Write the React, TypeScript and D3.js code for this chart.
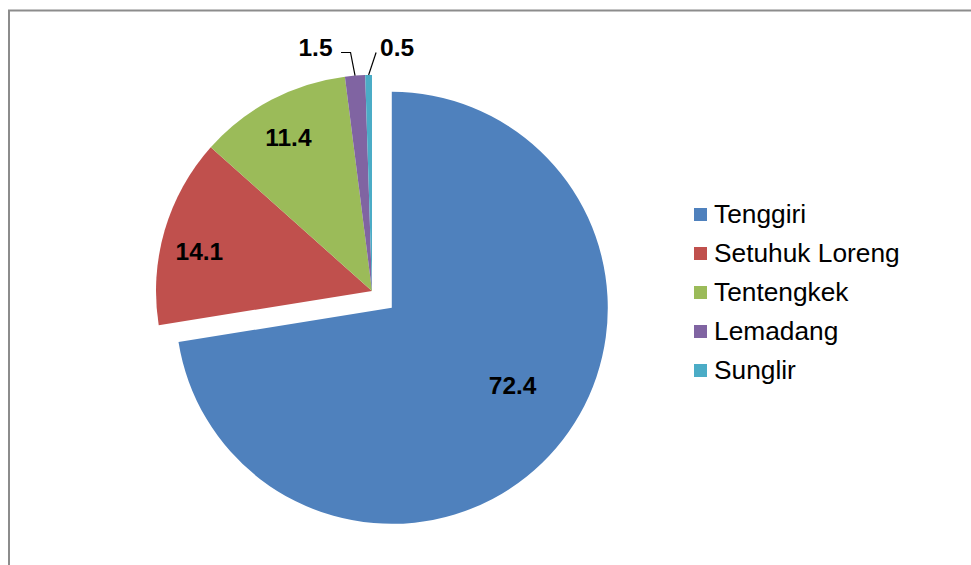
import React from "react";
import * as d3 from "d3";

// Catch composition by species (%)
const species = ["Tenggiri", "Setuhuk Loreng", "Tentengkek", "Lemadang", "Sunglir"];
const shares = [72.4, 14.1, 11.4, 1.5, 0.5];
const sliceColors = ["#4F81BD", "#C0504D", "#9BBB59", "#8064A2", "#4BACC6"];

const W = 971;
const H = 565;
const cx = 372;
const cy = 291;
const R = 216;
const explode = 26; // pull-out distance of the first slice

const labelFont = "'Liberation Sans', Arial, sans-serif";

export default function App() {
  const pie = d3
    .pie<number>()
    .value((d) => d)
    .sort(null);
  const arcs = pie(shares);
  const arcGen = d3.arc<d3.PieArcDatum<number>>().innerRadius(0).outerRadius(R);

  const mid = (a: d3.PieArcDatum<number>) => (a.startAngle + a.endAngle) / 2;
  const polar = (angle: number, r: number): [number, number] => [
    Math.sin(angle) * r,
    -Math.cos(angle) * r,
  ];

  // per-slice offset (only the first slice is pulled out)
  const offsets = arcs.map((a, i) => (i === 0 ? polar(mid(a), explode) : [0, 0]));

  // inside label placement: angle shift (radians) and radius fraction
  const insideLabel = [
    { dA: -0.135, f: 0.665 },
    { dA: -0.06, f: 0.82 },
    { dA: -0.014, f: 0.81 },
  ];

  const fmt = d3.format(".1f");

  return (
    <div style={{ position: "absolute", left: 0, top: 0 }}>
      <svg width={W} height={H} style={{ display: "block", overflow: "hidden" }}>
        <rect x={0} y={0} width={W} height={H} fill="#ffffff" />
        <rect
          x={9}
          y={10.5}
          width={W + 20}
          height={H + 20}
          fill="none"
          stroke="#8c8c8c"
          strokeWidth={2}
        />
        <g transform={`translate(${cx},${cy})`}>
          {arcs.map((a, i) => (
            <path
              key={species[i]}
              d={arcGen(a) || ""}
              transform={`translate(${offsets[i][0]},${offsets[i][1]})`}
              fill={sliceColors[i]}
            />
          ))}
          {arcs.slice(0, 3).map((a, i) => {
            const { dA, f } = insideLabel[i];
            const [x, y] = polar(mid(a) + dA, R * f);
            return (
              <text
                key={"l" + i}
                x={x + offsets[i][0]}
                y={y + offsets[i][1]}
                textAnchor="middle"
                dominantBaseline="central"
                fontFamily={labelFont}
                fontWeight="bold"
                fontSize={24.5}
                fill="#000"
              >
                {fmt(shares[i])}
              </text>
            );
          })}
          {arcs.slice(3).map((a, k) => {
            const i = k + 3;
            const [ex, ey] = polar(mid(a), R);
            const elbowY = -R - 22.5;
            const left = k === 0;
            const kx = left ? ex - 4.5 : ex + 7.5;
            const endX = left ? kx - 9.5 : kx;
            const textX = left ? endX - 8.5 : kx + 4;
            const pts: [number, number][] = left
              ? [
                  [ex, ey],
                  [kx, elbowY],
                  [endX, elbowY],
                ]
              : [
                  [ex, ey],
                  [kx, elbowY],
                ];
            return (
              <g key={"o" + i}>
                <path
                  d={d3.line()(pts) || ""}
                  fill="none"
                  stroke="#000"
                  strokeWidth={1.2}
                />
                <text
                  x={textX}
                  y={elbowY + 3}
                  textAnchor={left ? "end" : "start"}
                  fontFamily={labelFont}
                  fontWeight="bold"
                  fontSize={24.5}
                  fill="#000"
                >
                  {fmt(shares[i])}
                </text>
              </g>
            );
          })}
        </g>
        <g transform="translate(694,208)">
          {species.map((name, i) => (
            <g key={name} transform={`translate(0,${i * 39})`}>
              <rect x={0} y={0} width={13} height={13} fill={sliceColors[i]} />
              <text
                x={20}
                y={14.5}
                fontFamily={labelFont}
                fontSize={26.3}
                fill="#000"
              >
                {name}
              </text>
            </g>
          ))}
        </g>
      </svg>
    </div>
  );
}
